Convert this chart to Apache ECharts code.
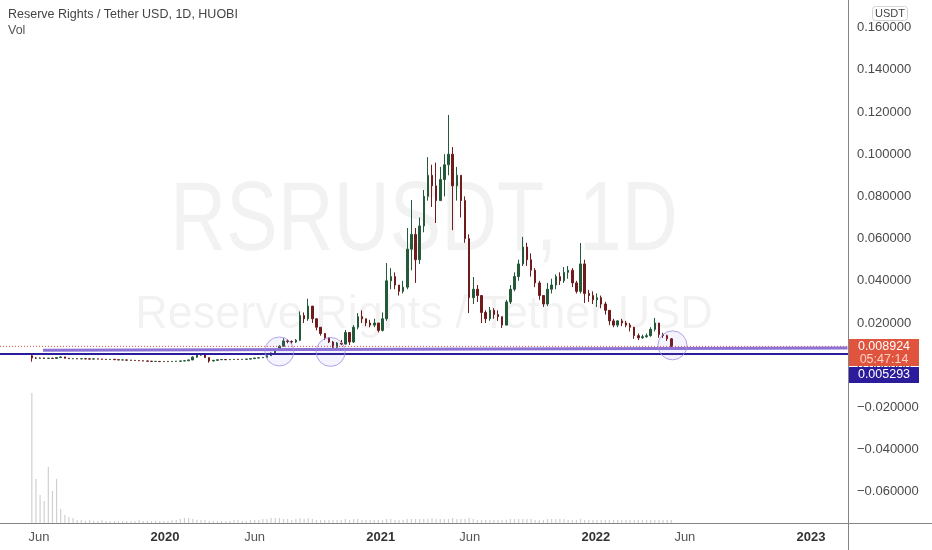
<!DOCTYPE html>
<html><head><meta charset="utf-8">
<script src="https://cdn.jsdelivr.net/npm/echarts@6/dist/echarts.min.js"></script>
<style>html,body{margin:0;padding:0;background:#fff}#c{width:932px;height:550px}</style>
</head><body><div id="c"></div>
<script>
// ---- data (weekly candles) ----
const firstWeek = [2019, 4, 20];      // Monday of the first candle (y, m0, d)
const firstOpen = 0.0045;
const closes = [
0.0034,0.0033,0.0034,0.0032,0.0033,0.0032,0.0036,0.0039,0.0033,0.0031,
0.0031,0.0030,0.0031,0.0030,0.0029,0.0030,0.0029,0.0028,0.0027,0.0028,
0.0026,0.0025,0.0025,0.0024,0.0023,0.0022,0.0021,0.0020,0.0019,0.0018,
0.0018,0.0017,0.0018,0.0017,0.0018,0.0019,0.0020,0.0021,0.0025,0.0038,
0.0048,0.0050,0.0036,0.0020,0.0023,0.0026,0.0027,0.0026,0.0027,0.0028,
0.0027,0.0028,0.0029,0.0031,0.0034,0.0035,0.0037,0.0045,0.0058,0.0072,
0.0090,0.0115,0.0112,0.0110,0.0118,0.0235,0.0220,0.0280,0.0220,0.0180,
0.0150,0.0130,0.0110,0.0085,0.0105,0.0100,0.0155,0.0110,0.0180,0.0230,
0.0220,0.0200,0.0190,0.0200,0.0165,0.0220,0.0400,0.0420,0.0380,0.0350,
0.0370,0.0550,0.0620,0.0500,0.0660,0.0800,0.0900,0.0850,0.0780,0.0880,
0.0950,0.1000,0.0850,0.0900,0.0780,0.0600,0.0320,0.0360,0.0330,0.0250,
0.0220,0.0260,0.0240,0.0230,0.0190,0.0300,0.0360,0.0420,0.0480,0.0560,
0.0500,0.0450,0.0390,0.0330,0.0290,0.0360,0.0380,0.0420,0.0400,0.0440,
0.0450,0.0390,0.0350,0.0480,0.0340,0.0330,0.0310,0.0320,0.0290,0.0260,
0.0210,0.0190,0.0210,0.0200,0.0190,0.0180,0.0140,0.0130,0.0135,0.0140,
0.0170,0.0200,0.0145,0.0140,0.0125,0.0089];
const highs = [
0.0055,0.0038,0.0037,0.0036,0.0035,0.0035,0.0038,0.0042,0.0040,0.0034,
0.0033,0.0032,0.0033,0.0032,0.0031,0.0032,0.0031,0.0030,0.0029,0.0029,
0.0028,0.0027,0.0026,0.0026,0.0025,0.0024,0.0023,0.0022,0.0021,0.0020,
0.0019,0.0019,0.0019,0.0019,0.0019,0.0020,0.0021,0.0022,0.0027,0.0042,
0.0052,0.0055,0.0050,0.0037,0.0025,0.0027,0.0029,0.0028,0.0028,0.0029,
0.0029,0.0029,0.0030,0.0032,0.0035,0.0037,0.0039,0.0047,0.0061,0.0076,
0.0095,0.0128,0.0122,0.0118,0.0124,0.0255,0.0250,0.0315,0.0270,0.0210,
0.0180,0.0145,0.0130,0.0115,0.0110,0.0120,0.0167,0.0155,0.0190,0.0247,
0.0260,0.0220,0.0215,0.0220,0.0200,0.0250,0.0484,0.0460,0.0440,0.0380,
0.0400,0.0650,0.0783,0.0650,0.0700,0.0830,0.0986,0.0950,0.0960,0.0940,
0.1000,0.1186,0.1034,0.0940,0.0900,0.0800,0.0620,0.0418,0.0380,0.0310,
0.0260,0.0276,0.0270,0.0260,0.0230,0.0310,0.0380,0.0440,0.0500,0.0608,
0.0580,0.0530,0.0460,0.0400,0.0330,0.0390,0.0410,0.0430,0.0440,0.0465,
0.0470,0.0460,0.0400,0.0579,0.0500,0.0357,0.0350,0.0340,0.0330,0.0300,
0.0247,0.0220,0.0214,0.0220,0.0210,0.0200,0.0165,0.0150,0.0145,0.0150,
0.0180,0.0224,0.0200,0.0153,0.0145,0.0128];
const lows = [
0.0017,0.0030,0.0031,0.0030,0.0031,0.0030,0.0031,0.0035,0.0032,0.0030,
0.0029,0.0029,0.0029,0.0028,0.0028,0.0028,0.0028,0.0027,0.0026,0.0026,
0.0025,0.0024,0.0024,0.0023,0.0022,0.0021,0.0020,0.0019,0.0018,0.0017,
0.0017,0.0016,0.0016,0.0016,0.0016,0.0017,0.0018,0.0019,0.0020,0.0024,
0.0036,0.0044,0.0034,0.0012,0.0018,0.0022,0.0025,0.0024,0.0025,0.0026,
0.0026,0.0026,0.0027,0.0028,0.0030,0.0033,0.0034,0.0036,0.0044,0.0056,
0.0070,0.0088,0.0104,0.0102,0.0106,0.0115,0.0200,0.0210,0.0200,0.0165,
0.0140,0.0120,0.0105,0.0077,0.0080,0.0095,0.0098,0.0096,0.0105,0.0170,
0.0200,0.0185,0.0180,0.0180,0.0155,0.0160,0.0210,0.0360,0.0360,0.0330,
0.0340,0.0360,0.0450,0.0390,0.0480,0.0630,0.0780,0.0750,0.0674,0.0780,
0.0800,0.0900,0.0640,0.0780,0.0700,0.0580,0.0247,0.0290,0.0300,0.0200,
0.0200,0.0210,0.0220,0.0210,0.0176,0.0190,0.0290,0.0350,0.0400,0.0470,
0.0470,0.0420,0.0370,0.0310,0.0276,0.0280,0.0340,0.0360,0.0380,0.0390,
0.0410,0.0370,0.0340,0.0340,0.0295,0.0300,0.0290,0.0276,0.0270,0.0240,
0.0190,0.0180,0.0180,0.0185,0.0180,0.0160,0.0125,0.0119,0.0125,0.0130,
0.0135,0.0160,0.0130,0.0129,0.0115,0.0086];
const volumes = [
130,44,28,22,56,32,44,14,8,6,5,
3,3,2,3,2,2,3,2,2,2, 2,2,2,2,2,3,2,2,2,2, 2,2,2,3,3,4,5,5,4,3, 3,3,2,2,2,2,2,2,3,3, 2,2,3,3,3,
4,4,5,5,5,4,4,3,4,5, 4,5,4,3,3,3,3,3,3,3, 4,3,4,4,3,3,3,3,3,3,
4,4,3,3,3,4,4,4,4,4, 4,5,4,4,4,4,5,4,4,4, 5,4,3,3,3,
3,3,3,3,3,4,4,4,4,4, 4,3,3,3,4,4,4,4,4,3, 3,3,4,3,3,3,3,3,3,3, 3,3,3,3,3,3,3,3,3,3, 3,3,3,3,3];
const lastPrice = 0.008924;
const lastPriceTimer = '05:47:14';
const supportLevel = 0.005293;
const trendStart = [[2019, 5, 8], 0.0071];
const trendEnd = [[2023, 2, 4], 0.0081];
const circleMarks = [[[2020, 6, 13], 0.0065], [[2020, 9, 8], 0.0063], [[2022, 4, 11], 0.0094]];
const xLabelDates = [[2019,5,1],[2020,0,1],[2020,5,1],[2021,0,1],[2021,5,1],[2022,0,1],[2022,5,1],[2023,0,1]];
const monthNames = ['Jan','Feb','Mar','Apr','May','Jun','Jul','Aug','Sep','Oct','Nov','Dec'];
const xMin = [2019, 2, 27];
const xMax = [2023, 2, 4, 19];

// ---- build ----
const t = a => new Date(a[0], a[1], a[2], a[3] || 0).getTime();
const candles = closes.map((c, i) => {
  const d = new Date(firstWeek[0], firstWeek[1], firstWeek[2] + 7 * i).getTime();
  const o = i === 0 ? firstOpen : closes[i - 1];
  return [d, o, c, lows[i], highs[i]];
});
const vol = volumes.map((v, i) => [candles[i][0], v]);
const X0 = t(xMin), X1 = t(xMax);

const FONT = '"Liberation Sans", Arial, sans-serif';
const chart = echarts.init(document.getElementById('c'), null, {renderer: 'canvas'});
const fmtPrice = v => {
  if (Math.abs(v) < 1e-9) return '0.000000';
  return v < 0 ? '\u2212' + Math.abs(v).toFixed(6) : v.toFixed(6);
};
const hLine = (data, style, z) => ({
  type: 'line', xAxisIndex: 0, yAxisIndex: 0, data, symbol: 'none', silent: true,
  lineStyle: style, z, clip: true
});

chart.setOption({
  animation: false,
  backgroundColor: '#ffffff',
  textStyle: {fontFamily: FONT},
  grid: [
    {left: 0, right: 84, top: 6.5, bottom: 16},
    {left: 0, right: 84, top: 393, bottom: 27}
  ],
  xAxis: [
    {type: 'value', gridIndex: 0, min: X0, max: X1, show: false, scale: true},
    {type: 'value', gridIndex: 1, min: X0, max: X1, scale: true,
     axisLine: {show: false}, axisTick: {show: false}, splitLine: {show: false},
     axisLabel: {
       customValues: xLabelDates.map(t), margin: 8, hideOverlap: false,
       formatter: v => {
         const d = new Date(v);
         return d.getMonth() === 0 ? '{y|' + d.getFullYear() + '}' : '{m|' + monthNames[d.getMonth()] + '}';
       },
       rich: {
         y: {fontFamily: FONT, fontSize: 13, fontWeight: 'bold', color: '#333'},
         m: {fontFamily: FONT, fontSize: 13, color: '#555'}
       }
     }}
  ],
  yAxis: [
    {type: 'value', gridIndex: 0, position: 'right', min: -0.08, max: 0.17, interval: 0.02,
     axisLine: {show: false}, axisTick: {show: false}, splitLine: {show: false},
     axisLabel: {showMinLabel: false, showMaxLabel: false, margin: 9, align: 'left',
       fontFamily: FONT, fontSize: 13, color: '#4a4a4a', formatter: fmtPrice}},
    {type: 'value', gridIndex: 1, min: 0, max: 130, show: false}
  ],
  series: [
    {type: 'bar', xAxisIndex: 1, yAxisIndex: 1, data: vol, barWidth: 1.2,
     itemStyle: {color: '#d0d0d0'}, silent: true, z: 1},
    {type: 'candlestick', xAxisIndex: 0, yAxisIndex: 0, data: candles,
     encode: {x: 0, y: [1, 2, 3, 4]}, barWidth: 2,
     itemStyle: {color: '#24593a', color0: '#6e1c1c', borderColor: '#24593a', borderColor0: '#6e1c1c', borderWidth: 1},
     z: 3},
    hLine([[X0, lastPrice], [X1, lastPrice]], {color: '#e0533d', type: [1, 2], width: 1}, 4),
    hLine([[t(trendStart[0]), trendStart[1]], [t(trendEnd[0]), trendEnd[1]]], {color: '#8d72d6', width: 3, type: 'solid'}, 4),
    hLine([[X0, supportLevel], [X1, supportLevel]], {color: '#2a1c9a', width: 2, type: 'solid'}, 4),
    {type: 'scatter', xAxisIndex: 0, yAxisIndex: 0, symbol: 'circle', symbolSize: 29,
     data: circleMarks.map(c => [t(c[0]), c[1]]), silent: true, z: 5,
     itemStyle: {color: 'rgba(130,115,225,0.10)', borderColor: '#9d90e2', borderWidth: 1}}
  ],
  graphic: [
    {type: 'text', x: 424, y: 223, z: 0, scaleX: 0.79, silent: true,
     style: {text: 'RSRUSDT, 1D', font: '98px ' + FONT, fill: 'rgba(0,0,0,0.05)', align: 'center', verticalAlign: 'middle'}},
    {type: 'text', x: 424, y: 315, z: 0, scaleX: 0.957, silent: true,
     style: {text: 'Reserve Rights / Tether USD', font: '47px ' + FONT, fill: 'rgba(0,0,0,0.05)', align: 'center', verticalAlign: 'middle'}},
    {type: 'text', x: 8, y: 15, z: 100, style: {text: 'Reserve Rights / Tether USD, 1D, HUOBI', font: '12.5px ' + FONT, fill: '#444', verticalAlign: 'middle'}},
    {type: 'text', x: 8, y: 31, z: 100, style: {text: 'Vol', font: '12.5px ' + FONT, fill: '#555', verticalAlign: 'middle'}},
    {type: 'rect', z: 100, shape: {x: 872.5, y: 6.5, width: 35, height: 14, r: 3}, style: {fill: '#fff', stroke: '#d4d4d4', lineWidth: 1}},
    {type: 'text', x: 890, y: 14, z: 101, style: {text: 'USDT', font: '11px ' + FONT, fill: '#444', align: 'center', verticalAlign: 'middle'}},
    {type: 'line', z: 90, shape: {x1: 848.5, y1: 0, x2: 848.5, y2: 550}, style: {stroke: '#858585', lineWidth: 1}},
    {type: 'line', z: 90, shape: {x1: 0, y1: 523.5, x2: 932, y2: 523.5}, style: {stroke: '#858585', lineWidth: 1}},
    {type: 'rect', z: 100, shape: {x: 849, y: 339, width: 70, height: 27}, style: {fill: '#e0533d'}},
    {type: 'text', x: 884, y: 346.5, z: 101, style: {text: fmtPrice(lastPrice), font: '12.5px ' + FONT, fill: '#ffffff', align: 'center', verticalAlign: 'middle'}},
    {type: 'text', x: 884, y: 359.5, z: 101, style: {text: lastPriceTimer, font: '12.5px ' + FONT, fill: '#fbd0c5', align: 'center', verticalAlign: 'middle'}},
    {type: 'rect', z: 100, shape: {x: 849, y: 367, width: 70, height: 16}, style: {fill: '#2a1c9a'}},
    {type: 'text', x: 884, y: 375, z: 101, style: {text: fmtPrice(supportLevel), font: '12.5px ' + FONT, fill: '#ffffff', align: 'center', verticalAlign: 'middle'}}
  ]
});
</script></body></html>
